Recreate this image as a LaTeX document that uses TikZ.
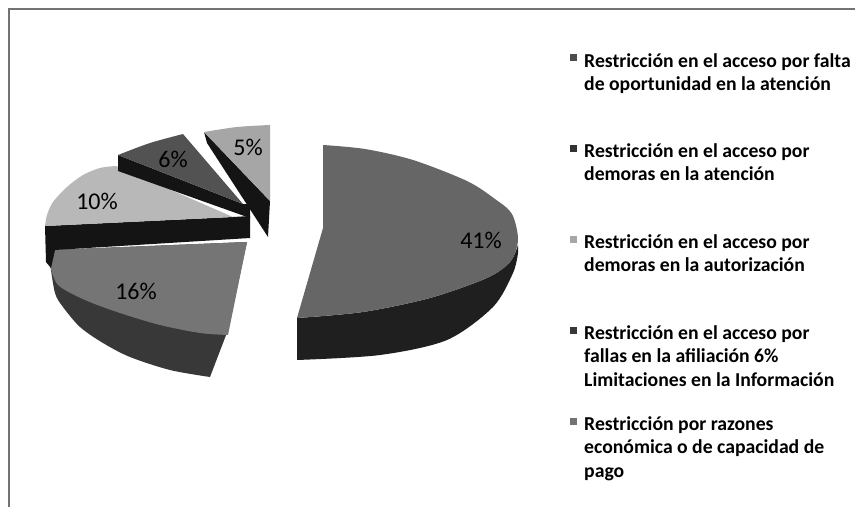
\documentclass[tikz,border=0pt]{standalone}
\usepackage{fontspec}
\setmainfont{Carlito}
\begin{document}
\begin{tikzpicture}[x=1pt,y=-1pt]
\tikzset{
  lbl/.style={font=\fontsize{24}{24}\selectfont, inner sep=0pt},
  leg/.style={font=\bfseries\fontsize{19.7}{23.3}\selectfont, anchor=base west, inner sep=0pt},
  sq/.style={minimum size=7pt, inner sep=0pt, draw=none},
  frame/.style={black!55, line width=1.3pt},
  sideface/.style={fill=black!92},
}
\useasboundingbox (0,0) rectangle (855,507);
\fill[white] (0,0) rectangle (855,507);
% frame
\coordinate (fb) at (9,507);
\coordinate (fc) at (9,9);
\coordinate (fr) at (855,9);
\draw[frame] (fb) -- (fc) -- (fr);

% ---- 41% slice ----
\fill[black!88] (297,318) -- plot[smooth] coordinates {(297,318)(363,312)(430,298)(487,278)(510,262)(518,245)} -- (518,253)
  -- plot[smooth] coordinates {(518,253)(513,273)(493,307)(447,340)(380,355)(297,360)} -- cycle;
\fill[black!60] (323,145) -- (323,228) -- (297,318)
  -- plot[smooth] coordinates {(297,318)(363,312)(430,298)(487,278)(510,262)(518,240)(512,214)(495,199)(467,181)(413,160)(365,149)(323,145)} -- cycle;

% ---- 16% slice ----
\fill[black!78] (50,250) -- (247,242) -- (228,330) -- (210,377)
  -- plot[smooth] coordinates {(210,377)(170,370)(130,357)(103,343)(80,327)(63,307)(55,293)(50,263)} -- cycle;
\fill[black!54] (50,250) -- (247,242) -- (228,335)
  -- plot[smooth] coordinates {(228,335)(200,333)(160,325)(120,313)(85,300)(58,285)(50,265)} -- cycle;

% ---- 10% slice ----
\fill[sideface] (45,226) -- (233,217) -- (250,216) -- (250,238) -- (55,250) -- (51,268) -- (46,262) -- cycle;
\fill[black!28] (45,226) -- (233,217) -- (116,166)
  -- plot[smooth] coordinates {(116,166)(100,168)(83,175)(67,187)(53,202)(47,215)(45,226)} -- cycle;

% ---- 6% slice ----
\fill[sideface] (118,155) -- (243,204) -- (250,204) -- (250,218) -- (118,171) -- cycle;
\fill[black!68] (118,155) -- plot[smooth] coordinates {(118,155)(150,143)(183,134)} -- (243,204) -- cycle;

% ---- 5% slice ----
\fill[sideface] (204,132) -- (207,143) -- (268,237) -- (270,201) -- cycle;
\fill[black!35] (204,132) -- plot[smooth] coordinates {(204,132)(237,127)(270,125)} -- (270,201) -- cycle;

% labels
\node[lbl] (p5) at (248,147) {5\%};
\node[lbl] (p6) at (173,159) {6\%};
\node[lbl] (p10) at (97,201) {10\%};
\node[lbl] (p16) at (136,291) {16\%};
\node[lbl] (p41) at (481,240) {41\%};

% legend
\node[sq, fill=black!70] (s1) at (573.5,57.5) {};
\node[leg] (l1) at (584,67) {\begin{tabular}[t]{@{}l@{}}Restricción en el acceso por falta\\de oportunidad en la atención\end{tabular}};
\node[sq, fill=black!80] (s2) at (573.5,148) {};
\node[leg] (l2) at (584,157.5) {\begin{tabular}[t]{@{}l@{}}Restricción en el acceso por\\demoras en la atención\end{tabular}};
\node[sq, fill=black!35] (s3) at (573.5,239) {};
\node[leg] (l3) at (584,248.5) {\begin{tabular}[t]{@{}l@{}}Restricción en el acceso por\\demoras en la autorización\end{tabular}};
\node[sq, fill=black!78] (s4) at (573.5,330) {};
\node[leg] (l4) at (584,339.5) {\begin{tabular}[t]{@{}l@{}}Restricción en el acceso por\\fallas en la afiliación 6\%\\Limitaciones en la Información\end{tabular}};
\node[sq, fill=black!55] (s5) at (573.5,421) {};
\node[leg] (l5) at (584,430.5) {\begin{tabular}[t]{@{}l@{}}Restricción por razones\\económica o de capacidad de\\pago\end{tabular}};
\end{tikzpicture}
\end{document}
